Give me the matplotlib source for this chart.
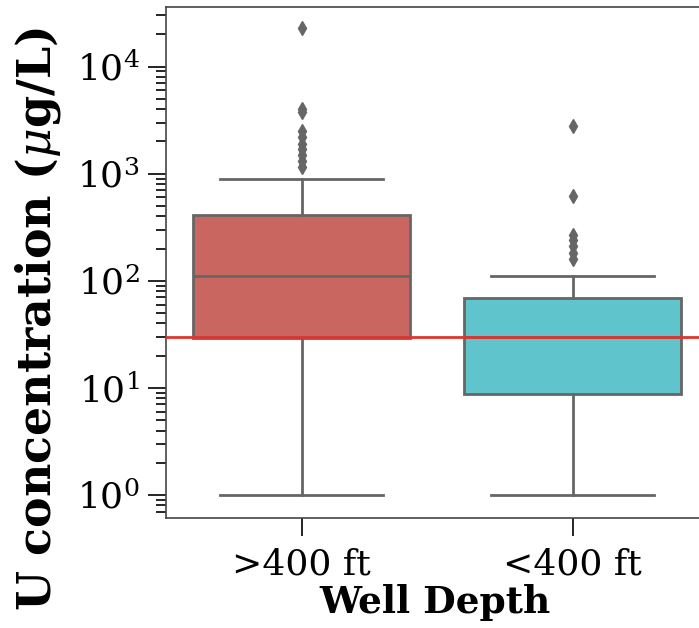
import matplotlib
matplotlib.use("Agg")
import matplotlib.pyplot as plt
import numpy as np

plt.rcParams['font.family'] = 'DejaVu Serif'
plt.rcParams['mathtext.fontset'] = 'dejavuserif'

# box summary values (ug/L)
depth_labels = ['>400 ft', '<400 ft']
q1 = [29, 8.7]
median = [110, 30]
q3 = [410, 69]
whislo = [1.0, 1.0]
whishi = [900, 110]
outliers_deep = [23000, 4000, 3800, 2500, 2200, 1900, 1700, 1500, 1300, 1150]
outliers_shallow = [2800, 620, 270, 240, 210, 180, 160]
mcl = 30  # EPA limit line

box_colors = ['#c8665f', '#5fc4cb']
line_gray = '#666666'

stats = []
for i, lab in enumerate(depth_labels):
    stats.append(dict(label=lab, q1=q1[i], med=median[i], q3=q3[i],
                      whislo=whislo[i], whishi=whishi[i],
                      fliers=[outliers_deep, outliers_shallow][i]))

fig = plt.figure(figsize=(6.99, 6.28), dpi=100)
ax = fig.add_axes([166/699, 110/628, 542/699, 511/628])

bp = ax.bxp(stats, positions=[0, 1], widths=0.8, patch_artist=True,
            boxprops=dict(edgecolor=line_gray, linewidth=2),
            medianprops=dict(color=line_gray, linewidth=2),
            whiskerprops=dict(color=line_gray, linewidth=2),
            capprops=dict(color=line_gray, linewidth=2),
            flierprops=dict(marker='d', markerfacecolor=line_gray,
                            markeredgecolor=line_gray, markersize=7))
for patch, c in zip(bp['boxes'], box_colors):
    patch.set_facecolor(c)

# caps as wide as seaborn draws them
for i, cap in enumerate(bp['caps']):
    x = i // 2
    cap.set_xdata([x - 0.3, x + 0.3])

ax.axhline(mcl, color='#dd3530', linewidth=2, zorder=5)

ax.set_yscale('log')
ax.set_ylim(0.61, 36000)
ax.set_xlim(-0.5, 1.5)
ax.set_xticks([0, 1])
ax.set_xticklabels(depth_labels)

ax.tick_params(axis='y', which='major', labelsize=26, length=13, width=1.2, pad=6)
ax.tick_params(axis='y', which='minor', length=7, width=1.2)
ax.tick_params(axis='x', labelsize=26, length=13, width=1.2, pad=8)

ax.set_xlabel('Well Depth', fontsize=27, fontweight='bold')
ax.set_ylabel(r'U concentration ($\mu$g/L)', fontsize=33, fontweight='bold')
ax.xaxis.set_label_coords(0.497, -0.13)
ax.yaxis.set_label_coords(-0.19, 0.389)

for s in ax.spines.values():
    s.set_color('#444444')
    s.set_linewidth(1.2)

fig.savefig('out.png', dpi=100)
